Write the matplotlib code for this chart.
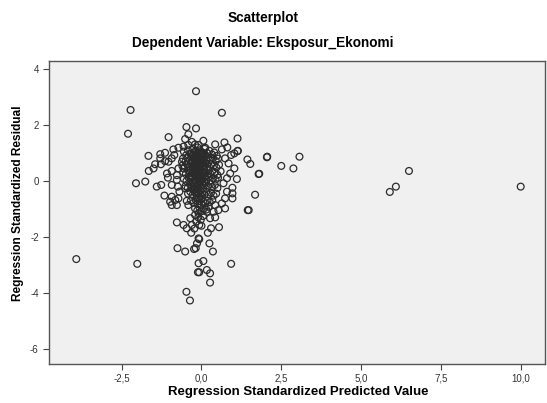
import numpy as np
import matplotlib.pyplot as plt
from matplotlib.ticker import FuncFormatter

# outlying / readable points (predicted, residual)
pred_edge = [-3.92, -2.22, -2.30, -2.01, -2.05, -1.76, -0.17, 0.64, 0.93, 10.0, 6.5, 6.09, 5.9,
             3.07, 2.88, 2.5, 2.06, 2.05, 1.81, 1.79, 1.68, 1.48, 1.45, 1.44, 1.53, 1.13, 1.14, 1.13,
             1.11, 1.03, 0.97, 0.97, 0.97, 0.9, 0.8, 0.74, 0.64, 0.43, 0.74, 0.53, 0.38, 0.69, 0.8,
             0.85, 0.74, 1.03, 0.93, 0.72, 0.81, 0.64, 0.43, 0.06, 0.12, -0.09, -1.03, -0.47, -0.17,
             -0.41, -0.51, -0.3, -1.66, -1.29, -1.14, -0.88, -0.72, -0.56, -0.41, -0.2,
             -1.4, -1.26, -1.65, -1.5, -1.45, -1.27, -1.29, -1.14, -1.03, -0.93, -0.85, -1.08,
             -1.05, -0.93, -0.77, -0.77, -0.93, -0.74, -0.69, -1.16, -0.93, -0.82, -0.72, -0.93,
             -0.98, -0.77, -0.46, -0.41, -0.51, -0.61, -0.56, -0.72]
resid_edge = [-2.79, 2.54, 1.69, -2.96, -0.08, -0.02, 3.21, 2.44, -2.96, -0.2, 0.36, -0.2, -0.39,
              0.87, 0.45, 0.54, 0.87, 0.85, 0.26, 0.25, -0.49, -1.04, -1.04, 0.77, 0.61, 1.52, 1.08, 1.07,
              0.07, 0.45, -0.24, -0.44, -0.62, 0.27, -0.38, -0.62, -0.8, -0.86, -0.98, -1.04, -1.1, -0.08,
              0.1, 0.63, 0.81, 0.99, 0.93, 1.38, 1.2, 1.13, 1.31, 1.44, 1.19, 1.29, 1.57, 1.93, 1.88,
              1.67, 1.5, 1.4, 0.9, 0.96, 1.01, 1.13, 1.19, 1.23, 1.29, 1.31,
              -0.2, -0.14, 0.36, 0.45, 0.6, 0.6, 0.81, 0.71, 0.69, 0.81, 0.93, 0.27,
              0.12, 0.36, 0.21, 0.04, -0.14, -0.2, -0.38, -0.52, -0.56, -0.68, -0.62, -0.86,
              -0.74, -0.86, -0.71, -0.86, -0.26, 0.69, 0.45, 0.45]

# lower tail of the cloud
pred_low = [-0.77, -0.56, -0.46, -0.32, -0.3, -0.2, -0.35, -0.09, -0.14, -0.23, -0.75, -0.51,
            -0.09, -0.11, -0.47, -0.36, -0.09, 0.17, 0.43, 0.27, 0.55, 0.3, 0.2, -0.07, -0.07,
            0.25, 0.36, -0.18, 0.06, 0.17, -0.07, 0.27, 0.27]
resid_low = [-1.48, -1.57, -1.69, -1.85, -1.57, -1.21, -1.33, -2.05, -2.23, -2.43, -2.4, -2.52,
             -2.94, -3.26, -3.96, -4.27, -1.15, -1.1, -1.3, -1.33, -1.65, -1.69, -1.85, -1.57, -2.08,
             -2.23, -2.52, -2.4, -2.86, -3.18, -3.26, -3.3, -3.63]

# dense core
pred_core = [-0.55, -0.48, -0.42, -0.35, -0.28, -0.2, -0.12, -0.05, 0.03, 0.1, 0.18, 0.25, 0.33, 0.4, 0.48,
             -0.58, -0.5, -0.44, -0.37, -0.3, -0.24, -0.17, -0.1, -0.04, 0.02, 0.08, 0.14, 0.21, 0.28, 0.36, 0.45, 0.52,
             -0.6, -0.52, -0.45, -0.38, -0.31, -0.25, -0.19, -0.13, -0.07, -0.01, 0.05, 0.11, 0.17, 0.24, 0.31, 0.39, 0.47, 0.55,
             -0.57, -0.49, -0.42, -0.35, -0.28, -0.22, -0.16, -0.1, -0.04, 0.02, 0.08, 0.14, 0.2, 0.27, 0.34, 0.42, 0.5, 0.6,
             -0.55, -0.47, -0.4, -0.33, -0.26, -0.2, -0.14, -0.08, -0.02, 0.04, 0.1, 0.16, 0.22, 0.29, 0.36, 0.44, 0.52,
             -0.5, -0.43, -0.36, -0.29, -0.22, -0.16, -0.1, -0.04, 0.02, 0.08, 0.14, 0.2, 0.27, 0.34, 0.42, 0.5,
             -0.42, -0.35, -0.28, -0.21, -0.15, -0.09, -0.03, 0.03, 0.09, 0.15, 0.22, 0.3, 0.38, 0.46,
             -0.33, -0.25, -0.18, -0.12, -0.06, 0.0, 0.06, 0.12, 0.19, 0.26, 0.34,
             -0.2, -0.13, -0.06, 0.01, 0.08, 0.15, 0.22,
             -0.1, -0.02, 0.05, -0.16, 0.0, -0.22,
             -0.3, -0.2, -0.12, -0.05, 0.0, -0.25, -0.15, -0.08, -0.18, 0.05, -0.02, -0.12, -0.26,
             0.1, -0.35, 0.0, -0.06, -0.22, -0.1, -0.28,
             -0.32, -0.24, -0.16, -0.09, -0.01, 0.06, -0.29, -0.21, -0.13, -0.04, 0.03, 0.12,
             -0.27, -0.19, -0.11, -0.03, 0.07, -0.33, -0.23, -0.14, -0.06, 0.02, 0.09, 0.17,
             -0.26, -0.18, -0.09, 0.0, 0.08, -0.21, -0.12, -0.04, 0.05, -0.15, -0.07, 0.01,
             -0.17, -0.09, -0.01, -0.11, -0.03, 0.04]
resid_core = [1.05, 0.92, 1.1, 0.98, 1.15, 1.05, 1.2, 1.1, 1.02, 1.15, 1.0, 1.08, 0.95, 1.02, 0.9,
              0.8, 0.7, 0.82, 0.75, 0.88, 0.78, 0.9, 0.8, 0.92, 0.78, 0.86, 0.74, 0.84, 0.76, 0.82, 0.72, 0.8,
              0.55, 0.5, 0.6, 0.52, 0.63, 0.55, 0.66, 0.58, 0.68, 0.57, 0.65, 0.53, 0.62, 0.5, 0.6, 0.55, 0.48, 0.58,
              0.32, 0.25, 0.38, 0.3, 0.4, 0.28, 0.42, 0.33, 0.45, 0.35, 0.42, 0.3, 0.4, 0.27, 0.36, 0.3, 0.22, 0.35,
              0.08, 0.0, 0.12, 0.05, 0.15, 0.02, 0.18, 0.08, 0.2, 0.1, 0.16, 0.04, 0.14, 0.02, 0.1, 0.05, 0.12,
              -0.18, -0.25, -0.12, -0.22, -0.1, -0.2, -0.08, -0.18, -0.06, -0.15, -0.05, -0.2, -0.1, -0.22, -0.14, -0.25,
              -0.45, -0.38, -0.5, -0.4, -0.52, -0.42, -0.55, -0.44, -0.5, -0.38, -0.48, -0.42, -0.52, -0.45,
              -0.7, -0.78, -0.68, -0.82, -0.72, -0.85, -0.74, -0.8, -0.7, -0.76, -0.68,
              -0.98, -1.05, -0.95, -1.08, -0.98, -1.02, -0.92,
              -1.3, -1.38, -1.25, -1.45, -1.6, -1.7,
              0.7, 0.45, 0.72, 0.5, 0.85, 0.95, 0.25, 0.6, 0.55, 0.3, 0.0, -0.3, -0.3,
              0.95, 0.15, 0.62, 0.4, 0.85, 0.15, -0.05,
              0.98, 1.02, 0.96, 1.01, 0.97, 1.0, 0.67, 0.72, 0.7, 0.75, 0.7, 0.66,
              0.46, 0.52, 0.47, 0.52, 0.5, 0.2, 0.24, 0.2, 0.26, 0.22, 0.27, 0.19,
              -0.02, 0.05, -0.01, 0.04, -0.02, -0.32, -0.27, -0.33, -0.28, -0.62, -0.6, -0.64,
              0.35, 0.58, 0.88, -0.45, 0.1, 0.75]

pred = pred_edge + pred_low + pred_core
resid = resid_edge + resid_low + resid_core

plt.rcParams['font.family'] = ['Liberation Sans', 'DejaVu Sans']

fig = plt.figure(figsize=(5.47, 4.03), dpi=100)
ax = fig.add_axes([0.0887, 0.0968, 0.9076, 0.7518])
ax.set_facecolor('#f0f0f0')

ax.scatter(pred, resid, s=24, facecolors='none', edgecolors='#2b2b2b', linewidths=0.9)

ax.set_xlim(-4.79, 10.76)
ax.set_ylim(-6.54, 4.29)
ax.set_xticks([-2.5, 0, 2.5, 5, 7.5, 10])
ax.set_yticks([-6, -4, -2, 0, 2, 4])
ax.xaxis.set_major_formatter(FuncFormatter(lambda v, p: ('%.1f' % v).replace('.', ',')))
ax.yaxis.set_major_formatter(FuncFormatter(lambda v, p: '%d' % v))
ax.tick_params(direction='out', length=4, width=0.8, colors='#444444', labelsize=7,
               labelcolor='#333333', pad=3)
for sp in ax.spines.values():
    sp.set_color('#555555')
    sp.set_linewidth(1.0)

fig.text(0.481, 0.955, 'Scatterplot', ha='center', va='center', fontsize=9.8, fontweight='bold')
fig.text(0.481, 0.893, 'Dependent Variable: Eksposur_Ekonomi', ha='center', va='center',
         fontsize=9.8, fontweight='bold')
fig.text(0.545, 0.027, 'Regression Standardized Predicted Value', ha='center', va='center',
         fontsize=9.5, fontweight='bold')
fig.text(0.032, 0.496, 'Regression Standardized Residual', ha='center', va='center',
         rotation=90, fontsize=8.6, fontweight='bold')

fig.savefig('out.png', dpi=100)
